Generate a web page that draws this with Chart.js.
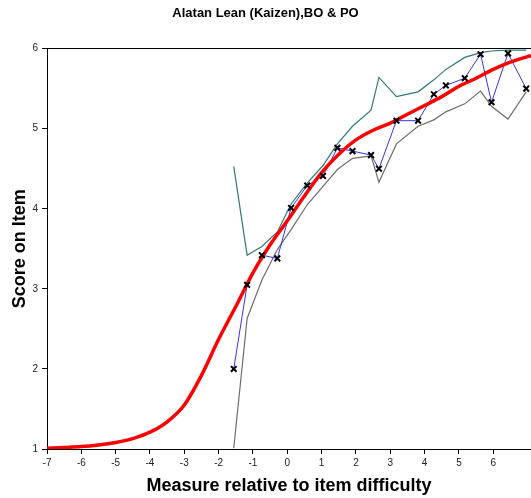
<!DOCTYPE html>
<html>
  <head>
    <meta charset="utf-8" />
    <title>Alatan Lean (Kaizen),BO & PO</title>
    <style>
        html, body {
            width: 100%;
            height: 100%;
            margin: 0;
            padding: 0;
            overflow: hidden;
            background: #fff;
        }
        #wrap { width: 531px; height: 498px; }
    </style>
  </head>
  <body>
    <script src="https://cdn.jsdelivr.net/npm/chart.js@4/dist/chart.umd.min.js"></script>
    <div id="wrap"><canvas id="chart"></canvas></div>

    <script>
        // observed category averages
        const measures = [-1.56, -1.17, -0.74, -0.29, 0.11, 0.58, 1.04, 1.46, 1.90, 2.44, 2.67, 3.18, 3.81, 4.27, 4.62, 5.17, 5.63, 5.95, 6.43, 6.96];
        const observed = [2.00, 3.05, 3.42, 3.38, 4.01, 4.29, 4.41, 4.76, 4.72, 4.67, 4.50, 5.10, 5.10, 5.43, 5.54, 5.63, 5.93, 5.33, 5.94, 5.50];
        const upperBand = [4.53, 3.42, 3.53, 3.71, 4.06, 4.32, 4.54, 4.81, 5.03, 5.23, 5.64, 5.40, 5.46, 5.61, 5.74, 5.89, 5.95, 5.97, 5.98, 5.98];
        const lowerBand = [1.01, 2.63, 3.11, 3.49, 3.74, 4.05, 4.28, 4.49, 4.63, 4.66, 4.33, 4.81, 5.03, 5.11, 5.21, 5.31, 5.47, 5.28, 5.12, 5.46];

        // model expected score curve
        const modelX = [-7, -6.5, -6, -5.5, -5, -4.5, -4, -3.5, -3, -2.5, -2, -1.5, -1, -0.5, 0, 0.5, 1, 1.5, 2, 2.5, 3, 3.5, 4, 4.5, 5, 5.5, 6, 6.5, 7, 7.1];
        const modelY = [1.01, 1.02, 1.03, 1.05, 1.08, 1.13, 1.21, 1.34, 1.55, 1.92, 2.37, 2.78, 3.20, 3.55, 3.85, 4.16, 4.45, 4.68, 4.86, 4.98, 5.07, 5.18, 5.29, 5.40, 5.53, 5.63, 5.74, 5.83, 5.90, 5.91];

        const xTicks = [-7, -6, -5, -4, -3, -2, -1, 0, 1, 2, 3, 4, 5, 6];
        const yTicks = [1, 2, 3, 4, 5, 6];

        const pts = (xs, ys) => xs.map((x, i) => ({ x: x, y: ys[i] }));
        const tickFont = { family: "Arial, 'Liberation Sans', sans-serif", size: 10 };
        const boldFont = (size) => ({ family: "Arial, 'Liberation Sans', sans-serif", size: size, weight: "bold" });

        const chart = new Chart("chart", {
          type: "scatter",
          data: {
            datasets: [
              {
                label: "observed points",
                data: pts(measures, observed),
                showLine: false,
                pointStyle: "crossRot",
                pointRadius: 4,
                pointBorderWidth: 2,
                pointBorderColor: "#000",
                order: 0
              },
              {
                label: "model",
                data: pts(modelX, modelY),
                showLine: true,
                borderColor: "#ff0000",
                borderWidth: 3.5,
                pointRadius: 0,
                cubicInterpolationMode: "monotone",
                order: 1
              },
              {
                label: "observed",
                data: pts(measures, observed),
                showLine: true,
                borderColor: "#3333ff",
                borderWidth: 1,
                pointRadius: 0,
                order: 2
              },
              {
                label: "upper",
                data: pts(measures, upperBand),
                showLine: true,
                borderColor: "#2f7a7a",
                borderWidth: 1.2,
                pointRadius: 0,
                order: 3
              },
              {
                label: "lower",
                data: pts(measures, lowerBand),
                showLine: true,
                borderColor: "#6e6e6e",
                borderWidth: 1.2,
                pointRadius: 0,
                order: 4
              }
            ]
          },
          options: {
            responsive: true,
            maintainAspectRatio: false,
            animation: false,
            layout: { padding: 0, autoPadding: false },
            plugins: {
              legend: { display: false },
              tooltip: { enabled: false },
              title: {
                display: true,
                text: "Alatan Lean (Kaizen),BO & PO",
                color: "#000",
                font: boldFont(13),
                padding: { top: 6, bottom: 27 }
              }
            },
            scales: {
              x: {
                type: "linear",
                min: -7,
                max: 7.1,
                afterBuildTicks: (scale) => { scale.ticks = xTicks.map(v => ({ value: v })); },
                afterFit: (scale) => { scale.height = 49; },
                border: { display: true, color: "#000", width: 1 },
                grid: { color: "transparent", tickColor: "#000", tickLength: 5, drawOnChartArea: false },
                ticks: { color: "#222", font: tickFont, padding: 3, maxRotation: 0 },
                title: {
                  display: true,
                  text: "Measure relative to item difficulty",
                  color: "#000",
                  font: boldFont(18),
                  padding: { top: 0, bottom: 1 }
                }
              },
              y: {
                min: 1,
                max: 6,
                afterBuildTicks: (scale) => { scale.ticks = yTicks.map(v => ({ value: v })); },
                afterFit: (scale) => { scale.width = 47; },
                border: { display: true, color: "#000", width: 1 },
                grid: {
                  color: (ctx) => ctx.tick && ctx.tick.value === 6 ? "#000" : "transparent",
                  tickColor: "#000",
                  tickLength: 5
                },
                ticks: { color: "#222", font: tickFont, padding: 4 },
                title: {
                  display: true,
                  text: "Score on Item",
                  color: "#000",
                  font: boldFont(18),
                  padding: { top: 9, bottom: 0 }
                }
              }
            }
          }
        });
    </script>
  </body>
</html>
